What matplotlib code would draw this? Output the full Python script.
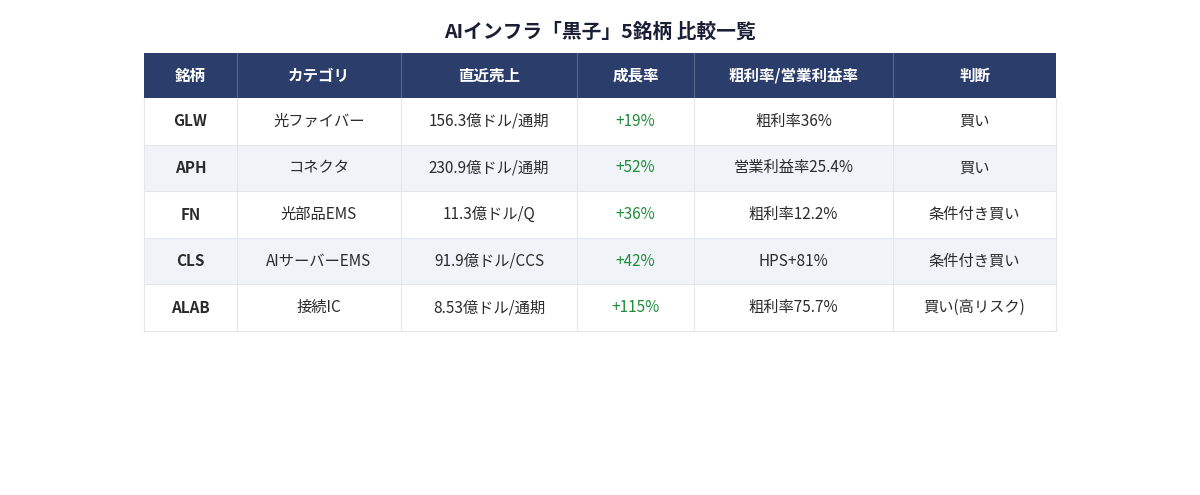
import matplotlib.pyplot as plt
from matplotlib.patches import Rectangle

plt.rcParams['font.family'] = ['Noto Sans CJK JP', 'DejaVu Sans']

## Data ##
title = "AIインフラ「黒子」5銘柄 比較一覧"
headers = ["銘柄", "カテゴリ", "直近売上", "成長率", "粗利率/営業利益率", "判断"]
tickers = ["GLW", "APH", "FN", "CLS", "ALAB"]
categories = ["光ファイバー", "コネクタ", "光部品EMS", "AIサーバーEMS", "接続IC"]
revenue = ["156.3億ドル/通期", "230.9億ドル/通期", "11.3億ドル/Q", "91.9億ドル/CCS", "8.53億ドル/通期"]
growth = ["+19%", "+52%", "+36%", "+42%", "+115%"]
margin = ["粗利率36%", "営業利益率25.4%", "粗利率12.2%", "HPS+81%", "粗利率75.7%"]
verdict = ["買い", "買い", "条件付き買い", "条件付き買い", "買い(高リスク)"]

## Layout (pixels) ##
col_edges = [144, 237, 401, 577, 694, 893, 1056]
header_top, header_bot = 53, 98
row_h = 46.6

header_color = "#2b3d6b"
alt_color = "#f0f3f8"
line_color = "#e3e7ec"
text_color = "#2b2b2b"
green = "#1f8c3b"

fig = plt.figure(figsize=(12, 4.95), dpi=100)
ax = fig.add_axes([0, 0, 1, 1])
ax.set_xlim(0, 1200)
ax.set_ylim(495, 0)
ax.axis("off")

ax.text(600, 32, title, ha="center", va="center", fontsize=14.2,
        fontweight="bold", color="#1a1f36")

# header
left, right = col_edges[0], col_edges[-1]
ax.add_patch(Rectangle((left, header_top), right - left, header_bot - header_top,
                       facecolor=header_color, edgecolor="none"))
for i, h in enumerate(headers):
    cx = (col_edges[i] + col_edges[i + 1]) / 2
    ax.text(cx, (header_top + header_bot) / 2, h, ha="center", va="center",
            fontsize=11.2, fontweight="bold", color="white")
for x in col_edges[1:-1]:
    ax.plot([x, x], [header_top, header_bot], color="#5a6890", lw=0.8)

# body
columns = [tickers, categories, revenue, growth, margin, verdict]
n = len(tickers)
for r in range(n):
    top = header_bot + r * row_h
    bg = alt_color if r % 2 == 1 else "white"
    ax.add_patch(Rectangle((left, top), right - left, row_h,
                           facecolor=bg, edgecolor="none"))
    cy = top + row_h / 2
    for c, col in enumerate(columns):
        cx = (col_edges[c] + col_edges[c + 1]) / 2
        kw = dict(ha="center", va="center", fontsize=11, color=text_color)
        if c == 0:
            kw["fontweight"] = "bold"
        if c == 3:
            kw["color"] = green
        ax.text(cx, cy, col[r], **kw)
    ax.plot([left, right], [top + row_h, top + row_h], color=line_color, lw=0.8)

bottom = header_bot + n * row_h
for x in col_edges:
    ax.plot([x, x], [header_bot, bottom], color=line_color, lw=0.8)

fig.savefig("out.png", dpi=100)
